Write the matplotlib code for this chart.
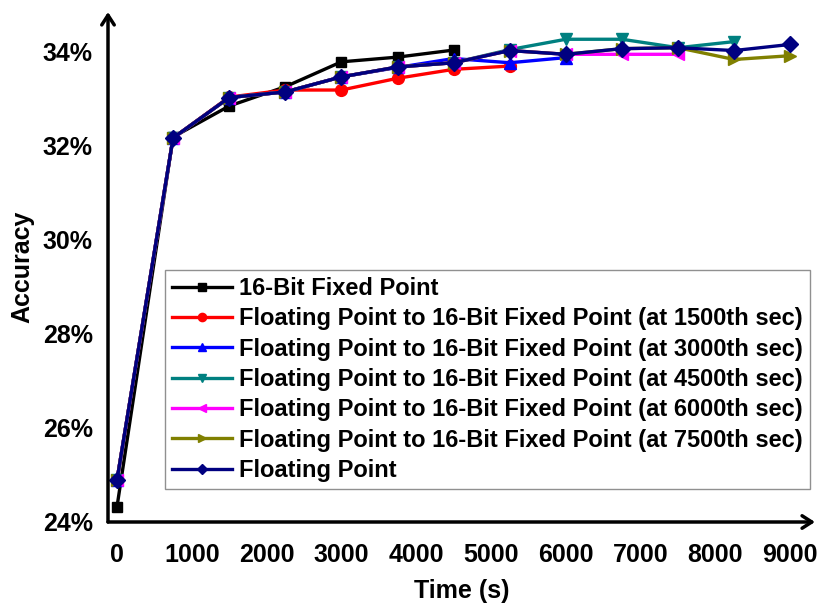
import matplotlib
matplotlib.use("Agg")
import matplotlib.pyplot as plt
from matplotlib.ticker import FuncFormatter

plt.rcParams['font.family'] = ['Liberation Sans', 'DejaVu Sans']
plt.rcParams['font.weight'] = 'bold'

times = [0, 750, 1500, 2250, 3000, 3750, 4500, 5250, 6000, 6750, 7500, 8250, 9000]

fixed16 = [24.30, 32.17, 32.83, 33.24, 33.77, 33.87, 34.02]
fp_to_fixed_1500 = [24.87, 32.15, 33.02, 33.17, 33.17, 33.42, 33.61, 33.68]
fp_to_fixed_3000 = [24.87, 32.15, 33.01, 33.13, 33.45, 33.65, 33.84, 33.75, 33.86]
fp_to_fixed_4500 = [24.87, 32.15, 33.01, 33.13, 33.45, 33.66, 33.75, 34.03, 34.25, 34.25, 34.07, 34.20]
fp_to_fixed_6000 = [24.87, 32.15, 33.01, 33.13, 33.45, 33.66, 33.75, 34.01, 33.93, 33.93, 33.93]
fp_to_fixed_7500 = [24.87, 32.15, 33.01, 33.13, 33.45, 33.66, 33.75, 34.01, 33.93, 34.05, 34.07, 33.82, 33.90]
floating = [24.87, 32.15, 33.01, 33.13, 33.45, 33.66, 33.75, 34.01, 33.93, 34.05, 34.07, 34.01, 34.14]

labels = [
    "16-Bit Fixed Point",
    "Floating Point to 16-Bit Fixed Point (at 1500th sec)",
    "Floating Point to 16-Bit Fixed Point (at 3000th sec)",
    "Floating Point to 16-Bit Fixed Point (at 4500th sec)",
    "Floating Point to 16-Bit Fixed Point (at 6000th sec)",
    "Floating Point to 16-Bit Fixed Point (at 7500th sec)",
    "Floating Point",
]
series = [fixed16, fp_to_fixed_1500, fp_to_fixed_3000, fp_to_fixed_4500,
          fp_to_fixed_6000, fp_to_fixed_7500, floating]
colors = ["#000000", "#FF0000", "#0000FF", "#008080", "#FF00FF", "#808000", "#000080"]
markers = ["s", "o", "^", "v", "<", ">", "D"]
msizes = [7.5, 8.5, 8.5, 8.5, 8.5, 8.5, 8]

x_ticks = [0, 1000, 2000, 3000, 4000, 5000, 6000, 7000, 8000, 9000]
y_ticks = [24, 26, 28, 30, 32, 34]

fig = plt.figure(figsize=(8.18, 6.10), dpi=100)
ax = fig.add_axes([108/818, (610-522)/610, (815-108)/818, (522-12)/610])

for vals, lab, c, m, ms in zip(series, labels, colors, markers, msizes):
    ax.plot(times[:len(vals)], vals, color=c, marker=m, markersize=ms,
            linewidth=2.4, label=lab)

ax.set_xlim(-120, 9331)
ax.set_ylim(23.98, 34.83)
ax.set_xticks(x_ticks)
ax.set_yticks(y_ticks)
ax.yaxis.set_major_formatter(FuncFormatter(lambda v, p: f"{v:.0f}%"))
ax.tick_params(length=0, labelsize=18)
ax.tick_params(axis='x', pad=15)
ax.tick_params(axis='y', pad=11)
for t in ax.get_xticklabels() + ax.get_yticklabels():
    t.set_fontweight('bold')
for s in ax.spines.values():
    s.set_visible(False)

ax.annotate("", xy=(1, 0), xytext=(0, 0), xycoords='axes fraction',
            arrowprops=dict(arrowstyle='->,head_length=0.7,head_width=0.45', lw=2.5, color='black',
                            shrinkA=0, shrinkB=0))
ax.annotate("", xy=(0, 1), xytext=(0, 0), xycoords='axes fraction',
            arrowprops=dict(arrowstyle='->,head_length=0.7,head_width=0.45', lw=2.5, color='black',
                            shrinkA=0, shrinkB=0))

ax.set_xlabel("Time (s)", fontsize=18, fontweight='bold', labelpad=9)
ax.set_ylabel("Accuracy", fontsize=18, fontweight='bold', labelpad=6)

leg = ax.legend(loc='upper left', bbox_to_anchor=(165/818, 1-270/610),
                bbox_transform=fig.transFigure, fontsize=17, frameon=True,
                fancybox=False, edgecolor='#909090', framealpha=1,
                handlelength=2.55, handletextpad=0.3, labelspacing=0.31,
                borderpad=0.3, borderaxespad=0, markerscale=0.7)
leg.get_frame().set_linewidth(1.0)
for t in leg.get_texts():
    t.set_fontweight('bold')

fig.savefig("out.png", dpi=100)
